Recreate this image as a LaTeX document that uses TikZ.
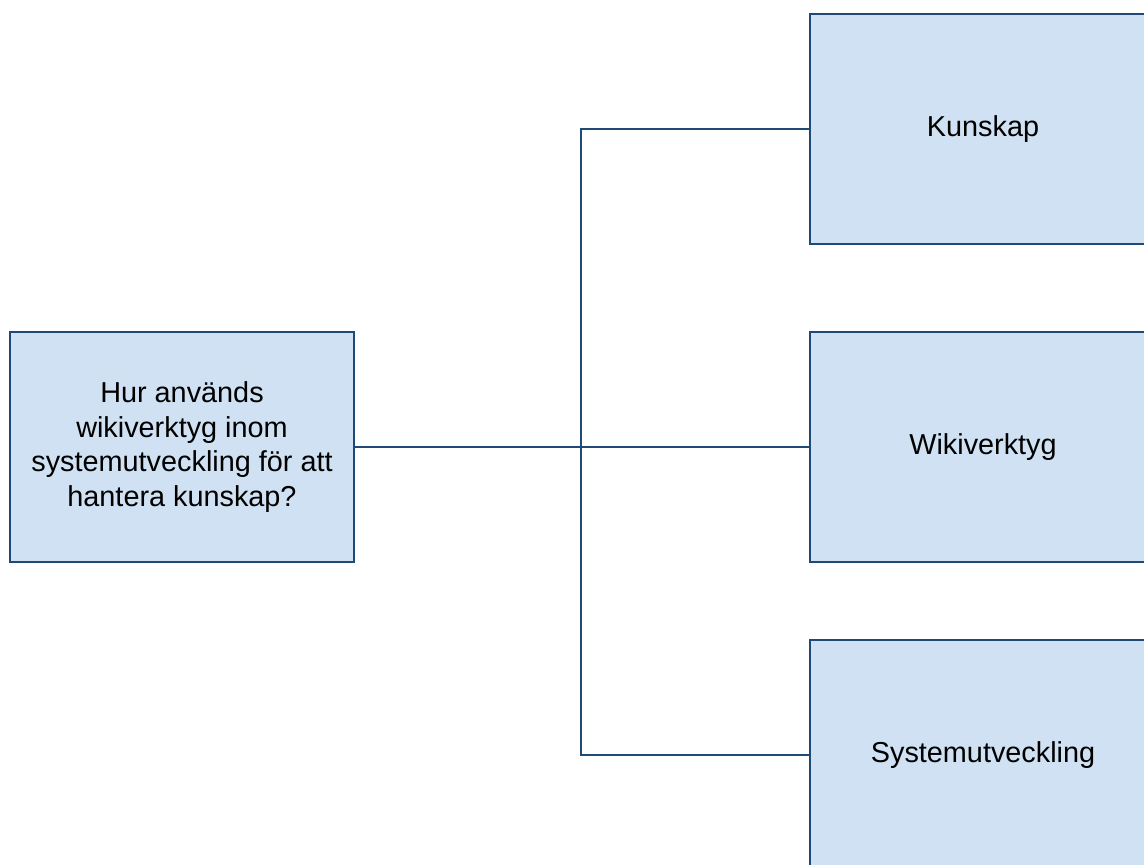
\documentclass[tikz,border=0pt]{standalone}
\usepackage{fontspec}
\setmainfont{Liberation Sans}
\usetikzlibrary{positioning}
\definecolor{boxfill}{HTML}{CFE1F2}
\definecolor{boxline}{HTML}{1F4A78}

\tikzset{
  topic/.style={draw=boxline, fill=boxfill, line width=1.6pt, align=center,
    minimum width=8.6cm, minimum height=5.75cm, inner sep=0pt,
    font=\fontsize{20.5}{24.5}\selectfont},
  area/.style={topic, minimum width=8.65cm},
  link/.style={draw=boxline, line width=1.6pt}
}

\begin{document}
\begin{tikzpicture}[x=0.025cm, y=-0.025cm]
  \useasboundingbox (0,0) rectangle (1144,865);
  \clip (0,0) rectangle (1144,865);
  % question on the left
  \node[topic] (question) at (182,447) {Hur används\\wikiverktyg inom\\systemutveckling för att\\hantera kunskap?};
  % the three areas on the right
  \node[area] (kunskap) at (983,129) {Kunskap};
  \node[area] (wiki) at (983,447) {Wikiverktyg};
  \node[area] (system) at (983,755) {Systemutveckling};
  \coordinate (split) at (581,447);
  \draw[link] (question.east) -- (wiki.west);
  \draw[link] (kunskap.west) -| (split) |- (system.west);
\end{tikzpicture}
\end{document}
